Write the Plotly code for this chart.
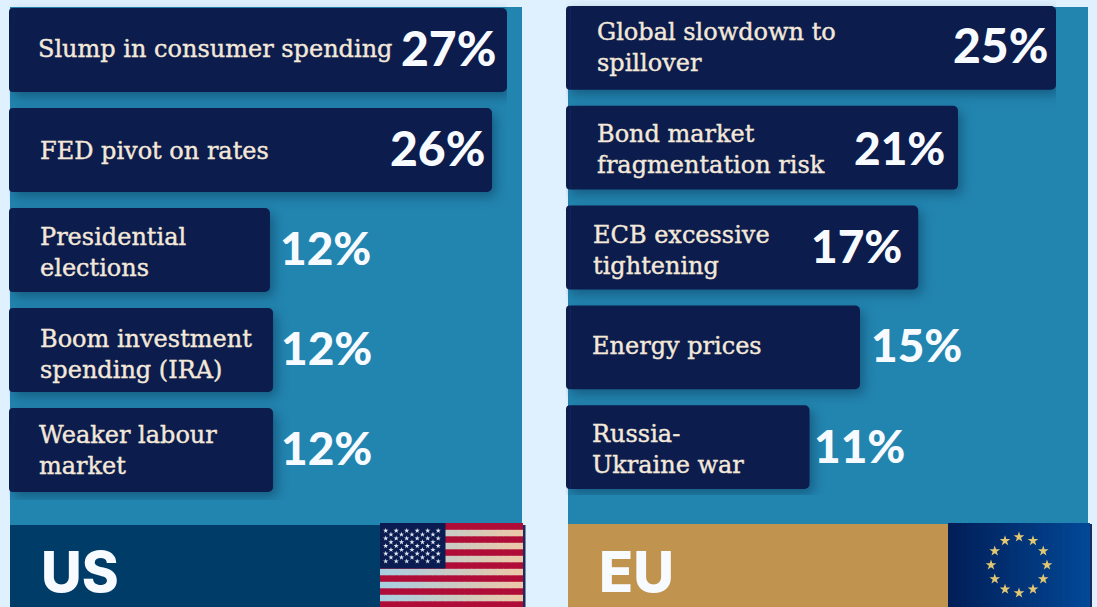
import plotly.graph_objects as go
import math

us_labels = ["Slump in consumer spending", "FED pivot on rates", "Presidential<br>elections",
             "Boom investment<br>spending (IRA)", "Weaker labour<br>market"]
us_pct = [27, 26, 12, 12, 12]
# drawn bar lengths (the source bars are not strictly proportional)
us_len = [27.0, 26.18, 14.02, 14.19, 14.19]
eu_labels = ["Global slowdown to<br>spillover", "Bond market<br>fragmentation risk", "ECB excessive<br>tightening",
             "Energy prices", "Russia-<br>Ukraine war"]
eu_pct = [25, 21, 17, 15, 11]
eu_len = [25.0, 19.95, 17.9, 14.9, 12.3]

W, H = 1097, 607
NAVY = "#0c1c4c"; CREAM = "#f3e8da"; WHITE = "#f7fbff"; PANEL = "#2285b0"
SERIF = "DejaVu Serif"; SANS = "Lato"

fig = go.Figure()
def bars(labels, vals, cap, xa, ya, radius=5):
    fig.add_trace(go.Bar(y=labels, x=[-cap]*len(labels), orientation="h", marker=dict(color=NAVY, opacity=1, cornerradius=radius, line_width=0),
                         xaxis=xa, yaxis=ya, showlegend=False, hoverinfo="skip"))
    fig.add_trace(go.Bar(y=labels, x=vals, orientation="h", marker=dict(color=NAVY, opacity=1, cornerradius=radius, line_width=0),
                         xaxis=xa, yaxis=ya, showlegend=False))
bars(us_labels, us_len, 0.27, "x", "y")
bars(eu_labels, eu_len, 0.25, "x2", "y2")

shapes = []
def rect(x0, y0, x1, y1, c):
    shapes.append(dict(type="rect", xref="paper", yref="paper", x0=x0/W, y0=1-y0/H, x1=x1/W, y1=1-y1/H,
                       fillcolor=c, line_width=0, layer="below"))
def mix(a, b, t):
    return "rgb(%d,%d,%d)" % tuple(round(a[i] + (b[i]-a[i])*t) for i in range(3))
rect(10, 7, 522, 526, PANEL)
rect(568, 7, 1088, 525, PANEL)
rect(10, 525, 382, 607, "#003c68")
rect(568, 524, 950, 607, "#c0934f")
# US flag
rect(382, 525, 525.5, 607, "#1c2a5c")
rect(380, 523, 523, 607, "#b00c38")
for s in range(1, 13, 2):
    y0 = 523.3 + s*6.5
    n = 22
    for k in range(n):
        x1 = 380 + (k+1)*143/n + (0.6 if k < n-1 else 0)
        rect(380 + k*143/n, y0, x1, y0 + 6.5, mix((168, 207, 224), (236, 200, 168), k/(n-1)))
rect(380, 523, 445.5, 568.5, "#0a1c52")
# EU flag
rect(950, 524, 1092, 607, "#1a2a5c")
n = 30
for k in range(n):
    x1 = 948 + (k+1)*142/n + (0.6 if k < n-1 else 0)
    rect(948 + k*142/n, 523, x1, 607, mix((2, 30, 88), (2, 72, 150), k/(n-1)))

us_sx, us_sy = [], []
for r in range(9):
    cnt = 6 if r % 2 == 0 else 5
    for c in range(cnt):
        us_sx.append(385.7 + (c + (0 if r % 2 == 0 else .5))*10.5)
        us_sy.append(530.7 + r*3.82)
fig.add_trace(go.Scatter(x=us_sx, y=us_sy, mode="markers", xaxis="x3", yaxis="y3", showlegend=False, hoverinfo="skip",
                         marker=dict(symbol="star", size=4, color="#dfe8ee", line_width=0)))
eu_sx = [1019 + 28*math.sin(math.radians(i*30)) for i in range(12)]
eu_sy = [565 - 28*math.cos(math.radians(i*30)) for i in range(12)]
fig.add_trace(go.Scatter(x=eu_sx, y=eu_sy, mode="markers", xaxis="x3", yaxis="y3", showlegend=False, hoverinfo="skip",
                         marker=dict(symbol="star", size=8, color="#e3c873", line_width=0)))

ann = []
def label(xref, yref, y, text, pad, ys):
    ann.append(dict(xref=xref, yref=yref, x=0, y=y, text=text, showarrow=False, xanchor="left", align="left",
                    xshift=pad, yshift=ys, font=dict(family=SERIF, size=24, color=CREAM)))
def pct(xref, yref, y, v, end, anchor, xs, ys):
    size = 46 if "1" in str(v) else 48
    ann.append(dict(xref=xref, yref=yref, x=end, y=y, text=f"{v}%", showarrow=False, xanchor=anchor,
                    xshift=xs, yshift=ys, font=dict(family=SANS, size=size, color=WHITE, weight=900)))
us_pad = [22, 24, 24, 24, 23]
us_lab_y = [1, -1, -2, -4, 0]
us_px = [("right", -9), ("right", -5), ("left", 8), ("left", 6), ("left", 6)]
for i in range(5):
    label("x", "y", us_labels[i], us_labels[i], us_pad[i], us_lab_y[i])
    pct("x", "y", us_labels[i], us_pct[i], us_len[i], us_px[i][0], us_px[i][1], 3)
eu_pad = [24, 24, 20, 19, 19]
eu_lab_y = [0, -1.5, -3, 1, -2]
eu_px = [("right", -6), ("right", -11), ("right", -14), ("left", 9), ("left", 2)]
eu_pct_y = [3, 0, 2, 3, 2]
for i in range(5):
    label("x2", "y2", eu_labels[i], eu_labels[i], eu_pad[i], eu_lab_y[i])
    pct("x2", "y2", eu_labels[i], eu_pct[i], eu_len[i], eu_px[i][0], eu_px[i][1], eu_pct_y[i])
for x, t in [(38.5, "US"), (597, "EU")]:
    ann.append(dict(xref="x3", yref="y3", x=x, y=572, text=t, showarrow=False, xanchor="left",
                    font=dict(family="Inter", size=56, color=WHITE, weight=800)))

ax = dict(visible=False, fixedrange=True)
fig.update_layout(
    width=W, height=H, margin=dict(l=0, r=0, t=0, b=0), paper_bgcolor="#dff0fe", plot_bgcolor="rgba(0,0,0,0)",
    barmode="overlay", bargap=0.16, shapes=shapes, annotations=ann,
    xaxis=dict(ax, domain=[9/W, 507/W], range=[-0.27, 27]),
    yaxis=dict(ax, domain=[1-500/H, 1], range=[4.5, -0.5]),
    xaxis2=dict(ax, domain=[566/W, 1056/W], range=[-0.25, 25]),
    yaxis2=dict(ax, domain=[1-495/H, 1], range=[4.48, -0.48]),
    xaxis3=dict(ax, domain=[0, 1], range=[0, W]),
    yaxis3=dict(ax, domain=[0, 1], range=[H, 0]),
)
post = """
document.body.style.margin='0';
document.querySelectorAll('.barlayer').forEach(function(g){g.style.filter='drop-shadow(4px 5px 6px rgba(0,20,50,0.35))';});
document.querySelectorAll('.annotation-text').forEach(function(t){
  if(t.textContent.indexOf('%')<0 && t.textContent.length>2){t.style.stroke='#f3e8da';t.style.strokeWidth='0.4px';}
});
"""
fig.write_html("out.html", post_script=post, config={"displayModeBar": False})
